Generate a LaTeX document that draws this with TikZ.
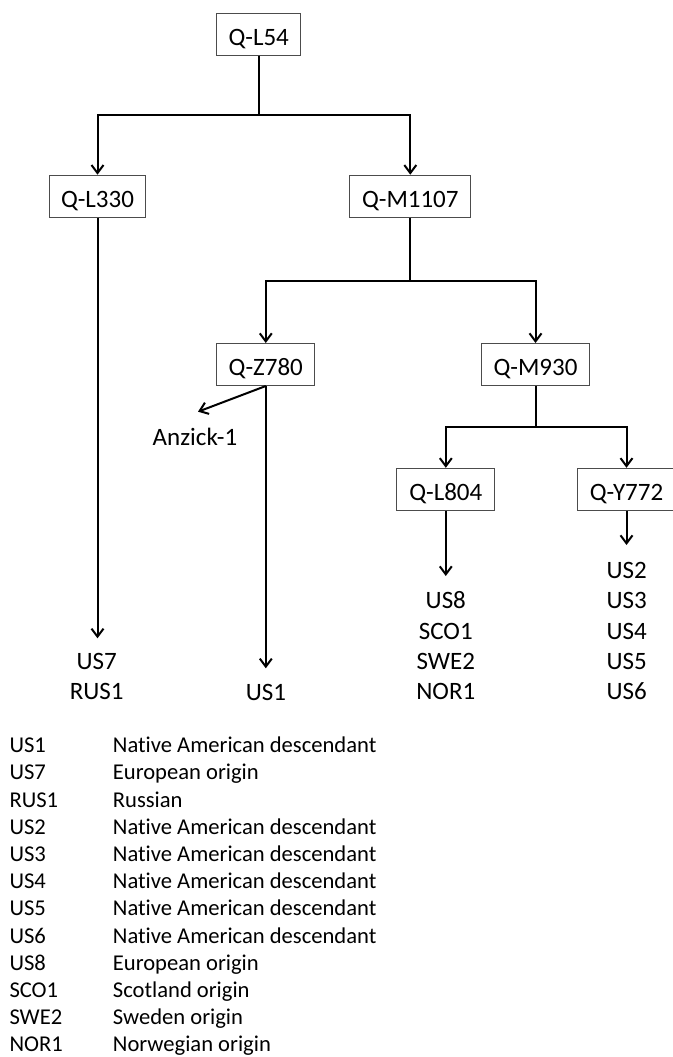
\documentclass[tikz,border=0pt]{standalone}
\usepackage{fontspec}
\setmainfont{Carlito}[Ligatures={NoCommon}]
\usetikzlibrary{arrows.meta}
\tikzset{
  hbox/.style={draw=black!70, line width=1pt, inner sep=0pt, minimum height=42pt,
    text height=21.8pt, text depth=0pt, font=\fontsize{25}{30}\selectfont},
  leaf/.style={anchor=base, inner sep=0pt, font=\fontsize{25}{30}\selectfont},
  legk/.style={anchor=base west, inner sep=0pt, font=\fontsize{22.6}{27}\selectfont},
  conn/.style={line width=2pt, black},
  arr/.style={conn, -{Straight Barb[length=8pt,width=12pt]}},
}
\begin{document}
\begin{tikzpicture}[x=1pt,y=-1pt]
\useasboundingbox (0,0) rectangle (672,1057);
\fill[white] (0,0) rectangle (672,1057);

% boxes
\node[hbox, minimum width=84pt]    (L54)   at (258.7,34.2)  {Q-L54};
\node[hbox, minimum width=96.4pt]  (L330)  at (97.5,196.2)  {Q-L330};
\node[hbox, minimum width=121.3pt] (M1107) at (410.3,196.2) {Q-M1107};
\node[hbox, minimum width=98.3pt]  (Z780)  at (265.8,364.5) {Q-Z780};
\node[hbox, minimum width=107.6pt] (M930)  at (535.5,364.5) {Q-M930};
\node[hbox, minimum width=98.3pt]  (L804)  at (445.8,489.3) {Q-L804};
\node[hbox, minimum width=98.4pt]  (Y772)  at (626.5,489.3) {Q-Y772};

% junctions and free ends
\coordinate (j1) at (258.7,115.3);
\coordinate (j2) at (410.3,280.7);
\coordinate (j3) at (535.5,427.3);
\coordinate (e330) at (97.5,638.3);
\coordinate (e780) at (265.8,668.3);
\coordinate (eanz) at (198,411.7);
\coordinate (e804) at (445.8,576);
\coordinate (e772) at (626.5,545);

% connectors
\draw[conn] (L54.south) -- (j1);
\draw[arr] (j1) -| (L330.north);
\draw[arr] (j1) -| (M1107.north);
\draw[conn] (M1107.south) -- (j2);
\draw[arr] (j2) -| (Z780.north);
\draw[arr] (j2) -| (M930.north);
\draw[conn] (M930.south) -- (j3);
\draw[arr] (j3) -| (L804.north);
\draw[arr] (j3) -| (Y772.north);
\draw[arr] (L330.south) -- (e330);
\draw[arr] (Z780.south) -- (e780);
\draw[arr] (Z780.south) -- (eanz);
\draw[arr] (L804.south) -- (e804);
\draw[arr] (Y772.south) -- (e772);

% leaf labels
\node[leaf] (anz) at (195,445.2) {Anzick-1};
\node[leaf] (us7) at (96.7,669.6) {US7};
\node[leaf] (rus1) at (96.7,699.6) {RUS1};
\node[leaf] (us1) at (266,700.6) {US1};
\node[leaf] (us8) at (445.8,608.6) {US8};
\node[leaf] (sco1) at (445.8,639.6) {SCO1};
\node[leaf] (swe2) at (445.8,669.6) {SWE2};
\node[leaf] (nor1) at (445.8,699.6) {NOR1};
\node[leaf] (us2) at (626.7,578) {US2};
\node[leaf] (us3) at (626.7,608.6) {US3};
\node[leaf] (us4) at (626.7,639.6) {US4};
\node[leaf] (us5) at (626.7,669.6) {US5};
\node[leaf] (us6) at (626.7,699.6) {US6};

% legend
\foreach \k/\d [count=\i from 0] in {US1/Native American descendant, US7/European origin, RUS1/Russian, US2/Native American descendant, US3/Native American descendant, US4/Native American descendant, US5/Native American descendant, US6/Native American descendant, US8/European origin, SCO1/Scotland origin, SWE2/Sweden origin, NOR1/Norwegian origin}{
  \node[legk] (lk\i) at (9.3,{752.6+27.2*\i}) {\k};
  \node[legk] (ld\i) at (112.7,{752.6+27.2*\i}) {\d};
}
\end{tikzpicture}
\end{document}
